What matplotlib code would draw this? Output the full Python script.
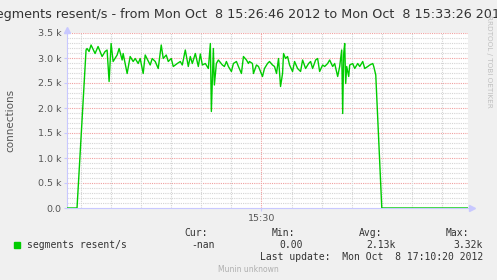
import numpy as np
import matplotlib
matplotlib.use("Agg")
import matplotlib.pyplot as plt

# seconds since 15:26:46 and segments resent/s
t = [0, 10, 19, 20, 22, 24, 28, 31, 35, 38, 40, 42, 44, 46, 50, 52, 55, 56, 58, 60,
     63, 66, 68, 71, 73, 76, 78, 81, 83, 85, 88, 91, 94, 96, 99, 101, 104, 106, 110,
     113, 115, 118, 121, 123, 125, 128, 131, 133, 135, 138, 141, 143, 144, 146, 147,
     149, 151, 155, 157, 159, 161, 164, 166, 169, 171, 174, 176, 179, 181, 182, 185,
     186, 189, 191, 193, 195, 197, 200, 202, 205, 207, 209, 211, 213, 215, 216, 218,
     220, 222, 225, 227, 230, 233, 235, 238, 241, 243, 245, 248, 250, 252, 255, 257,
     260, 262, 265, 267, 270, 272, 274, 275, 276, 277, 278, 279, 281, 282, 285, 287,
     290, 292, 295, 297, 300, 302, 305, 306, 308, 314, 400]
resent = [0, 0, 3160, 3190, 3130, 3260, 3090, 3230, 3030, 3130, 3160, 2530, 3290, 2930,
          3060, 3190, 2960, 3090, 2890, 2690, 3030, 2930, 2990, 2890, 2990, 2690, 3060,
          2940, 2860, 2990, 2930, 2790, 3260, 2990, 3060, 2930, 2990, 2830, 2890, 2930,
          2860, 3160, 2830, 3030, 2890, 3090, 2830, 3080, 2860, 2890, 2790, 3290, 1930,
          3190, 2460, 2890, 2960, 2860, 2830, 2930, 2830, 2730, 2890, 2930, 2830, 2690,
          3030, 2960, 2890, 2930, 2890, 2690, 2860, 2830, 2730, 2630, 2790, 2890, 2930,
          2860, 2830, 2690, 2990, 2430, 2690, 3090, 2990, 3030, 2860, 2730, 2930, 2790,
          2730, 2960, 2790, 2890, 2930, 2790, 2960, 2990, 2730, 2860, 2830, 2890, 2960,
          2830, 2890, 2630, 2830, 3160, 1890, 3090, 3290, 2490, 2830, 2630, 2860, 2890,
          2790, 2890, 2830, 2930, 2790, 2830, 2860, 2890, 2830, 2660, 0, 0]

ytick_vals = [0, 500, 1000, 1500, 2000, 2500, 3000, 3500]
ytick_labels = ["0.0", "0.5 k", "1.0 k", "1.5 k", "2.0 k", "2.5 k", "3.0 k", "3.5 k"]
start_sec = 15 * 3600 + 26 * 60 + 46
major_sec = 15 * 3600 + 30 * 60

bg = "#f0f0f0"
axis_col = "#c8c8ff"
txt = "#333333"

fig = plt.figure(figsize=(4.97, 2.80), dpi=100, facecolor=bg)
ax = fig.add_axes([67 / 497, 72 / 280, 401 / 497, 175 / 280])
ax.set_facecolor("white")
ax.set_xlim(0, 400)
ax.set_ylim(0, 3500)

# grid
for v in range(100, 3600, 100):
    if v % 500 == 0:
        ax.axhline(v, color="#f0a0a0", lw=0.8, ls=(0, (1, 1)), zorder=1)
    else:
        ax.axhline(v, color="#d4d4d4", lw=0.8, ls=(0, (1, 1)), zorder=1)
for s in range(start_sec + 14, start_sec + 401, 30):
    x = s - start_sec
    col = "#f0a0a0" if s == major_sec else "#d4d4d4"
    ax.axvline(x, color=col, lw=0.8, ls=(0, (1, 1)), zorder=1)

ax.plot(t, resent, color="#00cc00", lw=1.0, zorder=3)

for sp in ["top", "right"]:
    ax.spines[sp].set_visible(False)
for sp in ["left", "bottom"]:
    ax.spines[sp].set_color(axis_col)
    ax.spines[sp].set_linewidth(0.8)
ax.plot([0], [1.02], marker="^", ms=4, color=axis_col, transform=ax.transAxes, clip_on=False)
ax.plot([1.01], [0], marker=">", ms=4, color=axis_col, transform=ax.transAxes, clip_on=False)

ax.set_yticks(ytick_vals)
ax.set_yticklabels(ytick_labels)
ax.set_xticks([major_sec - start_sec])
ax.set_xticklabels(["15:30"])
ax.tick_params(axis="both", length=2, color=axis_col, labelsize=6.8, labelcolor="#555555", pad=2)

ax.set_ylabel("connections", fontsize=7.5, color="#555555")
ax.yaxis.set_label_coords(-0.128, 0.5)

fig.text(0.5, 1 - 18 / 280, "segments resent/s - from Mon Oct  8 15:26:46 2012 to Mon Oct  8 15:33:26 2012",
         ha="center", va="baseline", fontsize=9.2, color="#333333")
fig.text(489 / 497, 1 - 15 / 280, "RRDTOOL / TOBI OETIKER", rotation=270, ha="center", va="top",
         fontsize=5.2, color="#c0c0c0")

def ftxt(x, y, s, ha="right", **kw):
    fig.text(x / 497, 1 - y / 280, s, ha=ha, va="baseline", family="DejaVu Sans Mono",
             fontsize=7, color=txt, **kw)

ftxt(207.7, 236, "Cur:")
ftxt(295, 236, "Min:")
ftxt(382, 236, "Avg:")
ftxt(469, 236, "Max:")
fig.patches.append(plt.Rectangle((14 / 497, 1 - 248 / 280), 6 / 497, 6 / 280,
                                 transform=fig.transFigure, color="#00cc00", figure=fig))
ftxt(26.7, 248, "segments resent/s", ha="left")
ftxt(215, 248, "-nan")
ftxt(303, 248, "0.00")
ftxt(396, 248, "2.13k")
ftxt(483, 248, "3.32k")
ftxt(483.3, 260, "Last update:  Mon Oct  8 17:10:20 2012")
fig.text(248 / 497, 1 - 272 / 280, "Munin unknown", ha="center", va="baseline", fontsize=5.5, color="#b0b0b0")

fig.savefig("out.png", dpi=100, facecolor=bg)
